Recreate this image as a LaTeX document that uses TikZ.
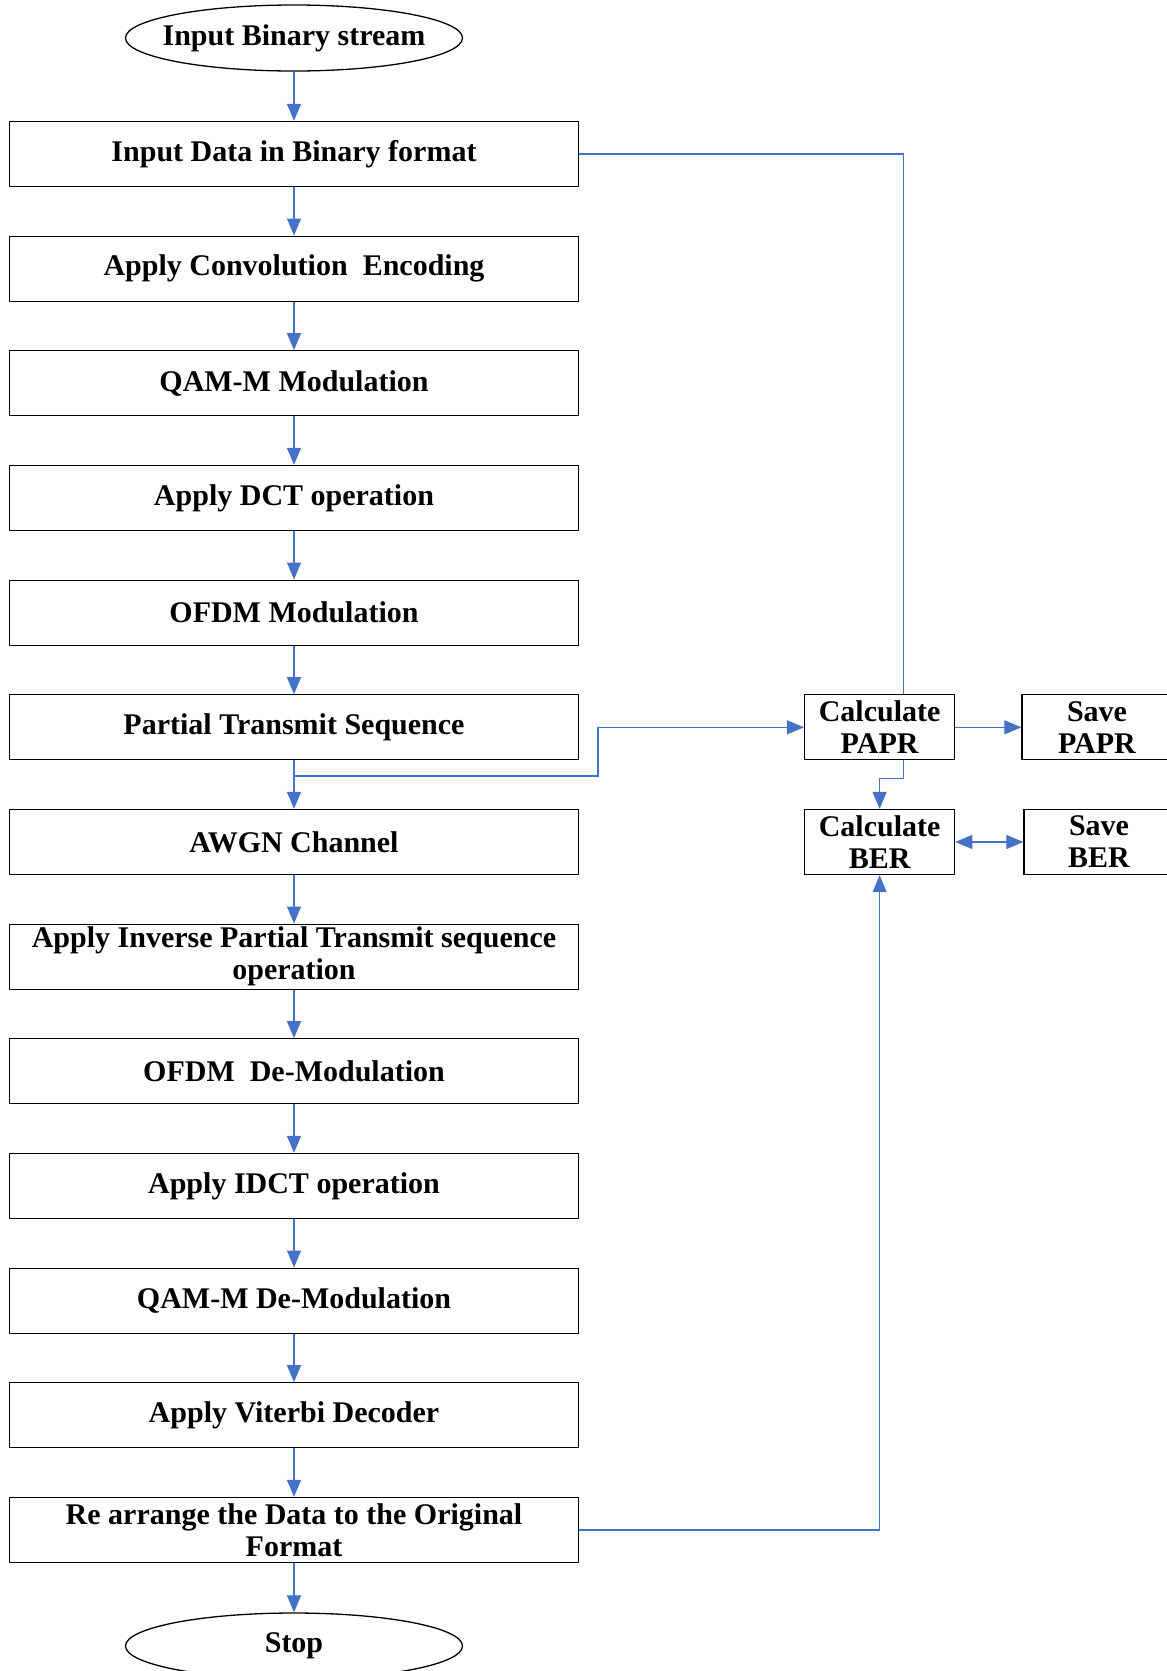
\documentclass[tikz,border=0pt]{standalone}
\usepackage{fontspec}
\setmainfont{Liberation Serif}
\usetikzlibrary{arrows.meta}
\usetikzlibrary{shapes.geometric}
\definecolor{lnblue}{RGB}{68,114,196}
\tikzset{>={Triangle[length=8.5pt,width=7pt]}}
\tikzset{blk/.style={draw,line width=0.65pt,minimum width=284.5pt,minimum height=32.5pt,inner sep=1pt,align=center,font=\fontsize{15}{16}\selectfont\bfseries}}
\tikzset{term/.style={blk,ellipse,minimum width=168.5pt,minimum height=33pt,inner ysep=0pt,inner xsep=-6.2pt}}
\tikzset{side/.style={blk,minimum width=75pt}}
\tikzset{conn/.style={draw=lnblue,line width=0.6pt}}

\begin{document}
\begin{tikzpicture}[x=0.5pt,y=-0.5pt]
    \useasboundingbox (0,0) rectangle (1167,1671);
    \clip (0,0) rectangle (1167,1671);
    \node[term] (S) at (294,38) {Input Binary stream};
    \node[blk] (B1) at (294,154) {Input Data in Binary format};
    \node[blk] (B2) at (294,268.7) {Apply Convolution~ Encoding};
    \node[blk] (B3) at (294,383.3) {QAM-M Modulation};
    \node[blk] (B4) at (294,498) {Apply DCT operation};
    \node[blk] (B5) at (294,612.7) {OFDM Modulation};
    \node[blk] (B6) at (294,727.3) {Partial Transmit Sequence};
    \node[blk] (B7) at (294,842) {AWGN Channel};
    \node[blk] (B8) at (294,956.7) {Apply Inverse Partial Transmit sequence\\operation};
    \node[blk] (B9) at (294,1071.3) {OFDM~ De-Modulation};
    \node[blk] (B10) at (294,1186) {Apply IDCT operation};
    \node[blk] (B11) at (294,1300.7) {QAM-M De-Modulation};
    \node[blk] (B12) at (294,1415.3) {Apply Viterbi Decoder};
    \node[blk] (B13) at (294,1530) {Re arrange the Data to the Original\\Format};
    \node[term] (E) at (294,1646) {Stop};
    \node[side] (CP) at (879.6,727.3) {Calculate\\PAPR};
    \node[side] (CB) at (879.6,842) {Calculate\\BER};
    \node[side] (SP) at (1097,727.3) {Save\\PAPR};
    \node[side] (SB) at (1099,842) {Save\\BER};
    % main chain
    \draw[conn,->] (S) -- (B1);
    \draw[conn,->] (B1) -- (B2);
    \draw[conn,->] (B2) -- (B3);
    \draw[conn,->] (B3) -- (B4);
    \draw[conn,->] (B4) -- (B5);
    \draw[conn,->] (B5) -- (B6);
    \draw[conn,->] (B6) -- (B7);
    \draw[conn,->] (B7) -- (B8);
    \draw[conn,->] (B8) -- (B9);
    \draw[conn,->] (B9) -- (B10);
    \draw[conn,->] (B10) -- (B11);
    \draw[conn,->] (B11) -- (B12);
    \draw[conn,->] (B12) -- (B13);
    \draw[conn,->] (B13) -- (E);
    % side branches
    \coordinate (J) at (294,776);
    \draw[conn,->] (J) -- (598,776) |- (CP.west);
    \draw[conn] (B1.east) -| ([xshift=12pt]CP.north);
    \draw[conn,->] ([xshift=12pt]CP.south) -- ++(0,18) -| (CB.north);
    \draw[conn,->] (CP) -- (SP);
    \draw[conn,<->] (CB) -- (SB);
    \draw[conn,->] (B13.east) -| (CB.south);
\end{tikzpicture}
\end{document}
